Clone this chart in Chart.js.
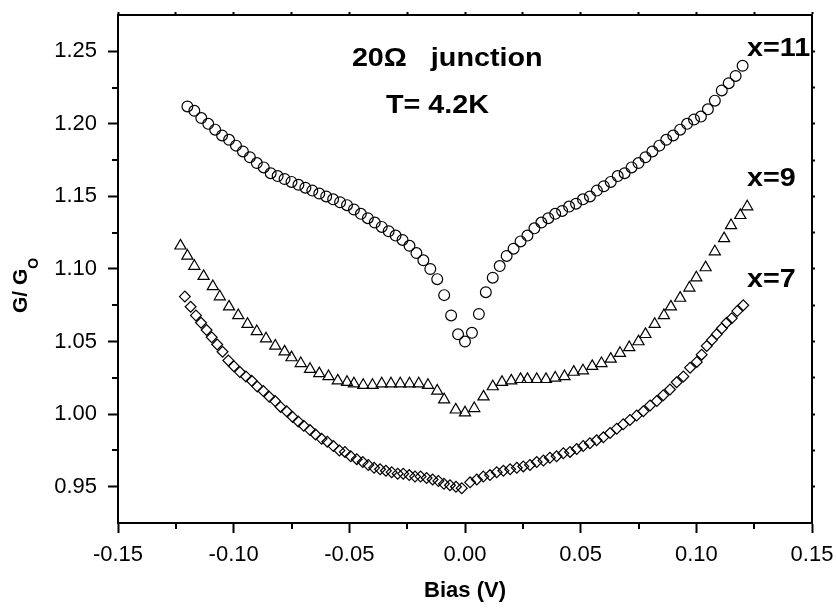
<!DOCTYPE html>
<html>
<head>
<meta charset="utf-8">
<script src="https://cdn.jsdelivr.net/npm/chart.js@4.4.1/dist/chart.umd.min.js"></script>
<style>
  html, body { margin: 0; padding: 0; background: #fff; }
</style>
</head>
<body>
<canvas id="chart" width="836" height="612"></canvas>
<script>
// normalised conductance G/G0 against bias voltage, one list per sample
const x11Points = [
  [-0.120, 1.212], [-0.117, 1.209], [-0.114, 1.204], [-0.111, 1.200], [-0.108, 1.196],
  [-0.105, 1.192], [-0.102, 1.189], [-0.099, 1.185], [-0.096, 1.181], [-0.093, 1.177],
  [-0.090, 1.173], [-0.087, 1.170], [-0.084, 1.166], [-0.081, 1.164], [-0.078, 1.162],
  [-0.075, 1.160], [-0.072, 1.158], [-0.069, 1.156], [-0.066, 1.154], [-0.063, 1.152],
  [-0.060, 1.150], [-0.057, 1.148], [-0.054, 1.146], [-0.051, 1.144], [-0.048, 1.141],
  [-0.045, 1.138], [-0.042, 1.135], [-0.039, 1.132], [-0.036, 1.129], [-0.033, 1.126],
  [-0.030, 1.123], [-0.027, 1.120], [-0.024, 1.116], [-0.021, 1.111], [-0.018, 1.106],
  [-0.015, 1.100], [-0.012, 1.093], [-0.009, 1.082], [-0.006, 1.068], [-0.003, 1.055],
  [0.000, 1.050],
  [0.003, 1.056], [0.006, 1.069], [0.009, 1.084], [0.012, 1.094], [0.015, 1.102],
  [0.018, 1.109], [0.021, 1.114], [0.024, 1.119], [0.027, 1.123], [0.030, 1.128],
  [0.033, 1.132], [0.036, 1.135], [0.039, 1.138], [0.042, 1.140], [0.045, 1.143],
  [0.048, 1.145], [0.051, 1.148], [0.054, 1.150], [0.057, 1.154], [0.060, 1.157],
  [0.063, 1.160], [0.066, 1.164], [0.069, 1.166], [0.072, 1.170], [0.075, 1.173],
  [0.078, 1.177], [0.081, 1.181], [0.084, 1.185], [0.087, 1.189], [0.090, 1.192],
  [0.093, 1.196], [0.096, 1.200], [0.099, 1.203], [0.102, 1.205], [0.105, 1.210],
  [0.108, 1.216], [0.111, 1.223], [0.114, 1.228], [0.117, 1.233], [0.120, 1.240],
];

const x9Points = [
  [-0.123, 1.116], [-0.120, 1.109], [-0.117, 1.102], [-0.113, 1.095], [-0.109, 1.088],
  [-0.106, 1.081], [-0.102, 1.074], [-0.098, 1.068], [-0.094, 1.062], [-0.090, 1.057],
  [-0.086, 1.052], [-0.082, 1.047], [-0.078, 1.043], [-0.075, 1.039], [-0.071, 1.035],
  [-0.067, 1.031], [-0.063, 1.028], [-0.059, 1.026], [-0.055, 1.023], [-0.051, 1.022],
  [-0.048, 1.021], [-0.044, 1.020], [-0.040, 1.020], [-0.036, 1.021], [-0.032, 1.021],
  [-0.028, 1.021], [-0.024, 1.021], [-0.020, 1.021], [-0.016, 1.020], [-0.012, 1.016],
  [-0.009, 1.010], [-0.004, 1.003], [0.000, 1.001],
  [0.004, 1.004], [0.008, 1.012], [0.012, 1.019], [0.016, 1.022], [0.020, 1.023],
  [0.024, 1.024], [0.027, 1.024], [0.031, 1.024], [0.035, 1.024], [0.039, 1.025],
  [0.043, 1.026], [0.047, 1.029], [0.051, 1.030], [0.055, 1.033], [0.059, 1.035],
  [0.063, 1.038], [0.067, 1.042], [0.071, 1.046], [0.075, 1.050], [0.078, 1.055],
  [0.082, 1.062], [0.086, 1.068], [0.089, 1.074], [0.093, 1.080], [0.097, 1.087],
  [0.100, 1.094], [0.104, 1.101], [0.108, 1.112], [0.112, 1.121], [0.115, 1.130],
  [0.119, 1.137], [0.122, 1.143],
];

const x7Points = [
  [-0.1211, 1.081], [-0.1186, 1.074], [-0.1163, 1.068], [-0.1141, 1.063], [-0.1117, 1.058],
  [-0.1095, 1.053], [-0.1071, 1.048], [-0.1048, 1.043], [-0.1023, 1.037], [-0.0999, 1.033],
  [-0.0973, 1.029], [-0.0947, 1.026], [-0.0922, 1.023], [-0.0898, 1.019], [-0.0872, 1.016],
  [-0.0846, 1.012], [-0.0821, 1.009], [-0.0797, 1.005], [-0.0771, 1.002], [-0.0745, 0.998],
  [-0.0721, 0.995], [-0.0697, 0.992], [-0.0670, 0.989], [-0.0646, 0.986], [-0.0620, 0.983],
  [-0.0595, 0.981], [-0.0569, 0.978], [-0.0543, 0.975], [-0.0519, 0.974], [-0.0494, 0.971],
  [-0.0468, 0.969], [-0.0442, 0.967], [-0.0418, 0.965], [-0.0393, 0.963], [-0.0367, 0.962],
  [-0.0342, 0.961], [-0.0317, 0.960], [-0.0291, 0.959], [-0.0267, 0.959], [-0.0241, 0.958],
  [-0.0216, 0.957], [-0.0192, 0.957], [-0.0166, 0.956], [-0.0140, 0.955], [-0.0115, 0.954],
  [-0.0091, 0.952], [-0.0065, 0.951], [-0.0039, 0.950], [-0.0014, 0.949],
  [0.0022, 0.953], [0.0051, 0.955], [0.0079, 0.957], [0.0108, 0.958], [0.0137, 0.960],
  [0.0166, 0.961], [0.0195, 0.962], [0.0224, 0.963], [0.0252, 0.964], [0.0281, 0.965],
  [0.0310, 0.967], [0.0339, 0.968], [0.0367, 0.970], [0.0396, 0.971], [0.0425, 0.973],
  [0.0454, 0.974], [0.0483, 0.976], [0.0511, 0.978], [0.0540, 0.980], [0.0569, 0.982],
  [0.0598, 0.984], [0.0627, 0.987], [0.0656, 0.990], [0.0684, 0.993], [0.0713, 0.996],
  [0.0742, 0.999], [0.0771, 1.002], [0.0800, 1.006], [0.0829, 1.009], [0.0857, 1.013],
  [0.0886, 1.017], [0.0915, 1.022], [0.0944, 1.026], [0.0973, 1.032], [0.1002, 1.036],
  [0.1023, 1.041], [0.1045, 1.047], [0.1067, 1.051], [0.1088, 1.055], [0.1110, 1.059],
  [0.1131, 1.063], [0.1153, 1.066], [0.1177, 1.071], [0.1203, 1.075],
];

const seriesNames = ["x=11", "x=9", "x=7"];
const xMajorTicks = [-0.15, -0.10, -0.05, 0.00, 0.05, 0.10, 0.15];
const xMinorTicks = [-0.125, -0.075, -0.025, 0.025, 0.075, 0.125];
const yMajorTicks = [0.95, 1.00, 1.05, 1.10, 1.15, 1.20, 1.25];
const yMinorTicks = [0.975, 1.025, 1.075, 1.125, 1.175, 1.225];

const FONT = "'Liberation Sans', Arial, Helvetica, sans-serif";

// text placed inside the plot, anchored in data units (left edge, vertical middle)
const notes = [
  { text: "20Ω   junction", at: [-0.0489, 1.2445] },
  { text: "T= 4.2K", at: [-0.0342, 1.2120] },
  { text: seriesNames[0], at: [0.1219, 1.2515] },
  { text: seriesNames[1], at: [0.1219, 1.1618] },
  { text: seriesNames[2], at: [0.1219, 1.0923] },
];

const toXY = (pts) => pts.map(([x, y]) => ({ x, y }));

const marker = (style, radius) => ({
  pointStyle: style,
  pointRadius: radius,
  pointHoverRadius: radius,
  pointBorderWidth: 1.2,
  pointBorderColor: "#000",
  pointBackgroundColor: "rgba(0,0,0,0)",
  showLine: false,
});

// keep the plot box where the axes put it: no extra room for edge labels
const noEdgePadding = (s) => {
  s.paddingLeft = 0;
  s.paddingRight = 0;
  s.paddingTop = 0;
  s.paddingBottom = 0;
};

// minor ticks, the rotated y title with its subscript, and the notes
const decorations = {
  id: "decorations",
  afterDraw(chart) {
    const { ctx, chartArea: area } = chart;
    const { x, y } = chart.scales;
    ctx.save();
    ctx.strokeStyle = "#000";
    ctx.lineWidth = 2;
    ctx.beginPath();
    xMinorTicks.forEach((v) => {
      const px = Math.round(x.getPixelForValue(v));
      ctx.moveTo(px, area.bottom);
      ctx.lineTo(px, area.bottom + 6);
    });
    yMinorTicks.forEach((v) => {
      const py = Math.round(y.getPixelForValue(v));
      ctx.moveTo(area.left, py);
      ctx.lineTo(area.left - 6, py);
    });
    ctx.stroke();

    ctx.fillStyle = "#000";
    ctx.textBaseline = "alphabetic";
    ctx.textAlign = "left";
    ctx.save();
    ctx.translate(27, 313);
    ctx.rotate(-Math.PI / 2);
    ctx.font = `bold 21px ${FONT}`;
    ctx.fillText("G/ G", 0, 0);
    const w = ctx.measureText("G/ G").width;
    ctx.font = `bold 14px ${FONT}`;
    ctx.fillText("O", w, 11);
    ctx.restore();

    ctx.textBaseline = "middle";
    ctx.font = `bold 25px ${FONT}`;
    notes.forEach((n) => {
      ctx.save();
      ctx.translate(x.getPixelForValue(n.at[0]), y.getPixelForValue(n.at[1]));
      ctx.scale(1.15, 1);
      ctx.fillText(n.text, 0, 0);
      ctx.restore();
    });
    ctx.restore();
  },
};

Chart.defaults.font.family = FONT;
Chart.defaults.color = "#000";

new Chart(document.getElementById("chart"), {
  type: "scatter",
  data: {
    datasets: [
      { label: seriesNames[0], data: toXY(x11Points), ...marker("circle", 5.4) },
      { label: seriesNames[1], data: toXY(x9Points), ...marker("triangle", 6.4) },
      { label: seriesNames[2], data: toXY(x7Points), ...marker("rectRot", 5.4) },
    ],
  },
  options: {
    responsive: false,
    animation: false,
    events: [],
    layout: { padding: 0 },
    plugins: { legend: { display: false }, tooltip: { enabled: false } },
    scales: {
      x: {
        type: "linear",
        position: "bottom",
        min: -0.15,
        max: 0.15,
        afterBuildTicks: (s) => { s.ticks = xMajorTicks.map((value) => ({ value })); },
        afterFit: (s) => { s.height = 89; noEdgePadding(s); },
        grid: { drawOnChartArea: false, tickLength: 10, tickWidth: 2, tickColor: "#000" },
        border: { color: "#000", width: 2 },
        ticks: {
          autoSkip: false,
          maxRotation: 0,
          padding: 9,
          font: { size: 22 },
          callback: (v) => v.toFixed(2),
        },
        title: {
          display: true,
          text: "Bias (V)",
          font: { size: 22, weight: "bold" },
          padding: { top: 0, bottom: 8 },
        },
      },
      y: {
        type: "linear",
        position: "left",
        min: 0.925,
        max: 1.275,
        afterBuildTicks: (s) => { s.ticks = yMajorTicks.map((value) => ({ value })); },
        afterFit: (s) => { s.width = 118; noEdgePadding(s); },
        grid: { drawOnChartArea: false, tickLength: 10, tickWidth: 2, tickColor: "#000" },
        border: { color: "#000", width: 2 },
        ticks: {
          autoSkip: false,
          padding: 11,
          font: { size: 22 },
          callback: (v) => v.toFixed(2),
        },
      },
      xTop: {
        type: "linear",
        position: "top",
        display: true,
        min: -0.15,
        max: 0.15,
        afterBuildTicks: (s) => {
          s.ticks = [...xMajorTicks, ...xMinorTicks].map((value) => ({ value }));
        },
        afterFit: (s) => { s.height = 15; noEdgePadding(s); },
        grid: { drawOnChartArea: false, tickLength: 3, tickWidth: 2, tickColor: "#000" },
        border: { color: "#000", width: 2 },
        ticks: { display: false },
      },
      yRight: {
        type: "linear",
        position: "right",
        display: true,
        min: 0.925,
        max: 1.275,
        afterBuildTicks: (s) => {
          s.ticks = [...yMajorTicks, ...yMinorTicks].map((value) => ({ value }));
        },
        afterFit: (s) => { s.width = 24; noEdgePadding(s); },
        grid: { drawOnChartArea: false, tickLength: 3, tickWidth: 2, tickColor: "#000" },
        border: { color: "#000", width: 2 },
        ticks: { display: false },
      },
    },
  },
  plugins: [decorations],
});
</script>
</body>
</html>
